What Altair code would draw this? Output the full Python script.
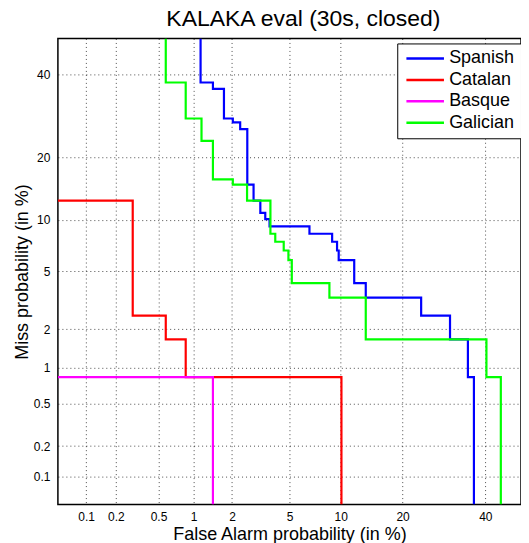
import statistics
import altair as alt
import pandas as pd

# ---- data (percentages; curves run to the axis limits) ----
languages = ["Spanish", "Catalan", "Basque", "Galician"]
line_colors = ["#0000FF", "#FF0000", "#FF00FF", "#00FF00"]

spanish_fa = [1.14, 1.14, 1.43, 1.43, 1.74, 1.74, 2.03, 2.03, 2.30, 2.30, 2.59, 2.59,
              2.87, 2.87, 3.2, 3.2, 3.46, 3.46, 3.7, 3.7, 6.64, 6.64, 8.98, 8.98,
              9.56, 9.56, 9.76, 9.76, 11.8, 11.8, 13.5, 13.5, 23.9, 23.9, 30.7, 30.7,
              35.3, 35.3, 36.9, 36.9]
spanish_miss = [50, 37.8, 37.8, 36.1, 36.1, 28.6, 28.6, 27.7, 27.7, 26.1, 26.1, 15.1,
                15.1, 12.6, 12.6, 10.9, 10.9, 10.1, 10.1, 9.24, 9.24, 8.4, 8.4, 7.56,
                7.56, 6.72, 6.72, 5.88, 5.88, 4.2, 4.2, 3.36, 3.36, 2.52, 2.52, 1.68,
                1.68, 0.84, 0.84, 0.05]

catalan_fa = [0.05, 0.29, 0.29, 0.58, 0.58, 0.86, 0.86, 10.1, 10.1]
catalan_miss = [12.6, 12.6, 2.52, 2.52, 1.68, 1.68, 0.84, 0.84, 0.05]

basque_fa = [0.05, 1.43, 1.43]
basque_miss = [0.84, 0.84, 0.05]

galician_fa = [0.58, 0.58, 0.86, 0.86, 1.16, 1.16, 1.43, 1.43, 2.03, 2.03, 2.58, 2.58,
               3.75, 3.75, 4.04, 4.04, 4.59, 4.59, 4.92, 4.92, 5.17, 5.17, 8.67, 8.67,
               13.5, 13.5, 40.3, 40.3, 44.3, 44.3]
galician_miss = [50, 37.8, 37.8, 28.6, 28.6, 23.5, 23.5, 16.0, 16.0, 15.1, 15.1, 12.6,
                 12.6, 8.4, 8.4, 7.56, 7.56, 6.72, 6.72, 5.88, 5.88, 4.2, 4.2, 3.36,
                 3.36, 1.68, 1.68, 0.84, 0.84, 0.05]

tick_pct = [0.1, 0.2, 0.5, 1, 2, 5, 10, 20, 40]
axis_min_pct = 0.05
axis_max_pct = 50

# ---- build table ----
rows = []
for lang, fa, miss in [("Spanish", spanish_fa, spanish_miss),
                       ("Catalan", catalan_fa, catalan_miss),
                       ("Basque", basque_fa, basque_miss),
                       ("Galician", galician_fa, galician_miss)]:
    for i, (f, m) in enumerate(zip(fa, miss)):
        rows.append({"lang": lang, "idx": i, "fa": f, "miss": m})
df = pd.DataFrame(rows)

nd = statistics.NormalDist()
zmin = nd.inv_cdf(axis_min_pct / 100)
zmax = nd.inv_cdf(axis_max_pct / 100)
tick_z = [nd.inv_cdf(p / 100) for p in tick_pct]
label_expr = "format(cumulativeNormal(datum.value) * 100, '.1~r')"

FONT = "Liberation Sans"

x_axis = alt.Axis(
    values=tick_z, labelExpr=label_expr, title="False Alarm probability (in %)",
    grid=True, gridDash=[1, 3], gridColor="#000000", gridOpacity=0.7, gridWidth=1,
    ticks=False, domain=False, labelPadding=7, labelFontSize=12, labelFont=FONT,
    labelColor="#000000", labelFlush=False,
    titleFont=FONT, titleFontSize=18, titleFontWeight="normal", titleColor="#000000",
    titleBaseline="alphabetic", titleY=35,
)
y_axis = alt.Axis(
    values=tick_z, labelExpr=label_expr, title="Miss probability (in %)",
    grid=True, gridDash=[1, 3], gridColor="#000000", gridOpacity=0.7, gridWidth=1,
    ticks=False, domain=False, labelPadding=8, labelFontSize=12, labelFont=FONT,
    labelColor="#000000", labelFlush=False,
    titleFont=FONT, titleFontSize=18, titleFontWeight="normal", titleColor="#000000",
    titleBaseline="alphabetic", titleX=-30, titleAngle=270,
)

# a horizontal stroke about 37 px long whose nominal symbol size stays small
legend_symbol = "M-3.3,0H3.3"

chart = alt.Chart(df).transform_calculate(
    zx="quantileNormal(datum.fa / 100)",
    zy="quantileNormal(datum.miss / 100)",
).mark_line(strokeWidth=2.2, clip=True, strokeCap="butt").encode(
    x=alt.X("zx:Q", scale=alt.Scale(domain=[zmin, zmax], nice=False, zero=False), axis=x_axis),
    y=alt.Y("zy:Q", scale=alt.Scale(domain=[zmin, zmax], nice=False, zero=False), axis=y_axis),
    color=alt.Color("lang:N", sort=languages,
                    scale=alt.Scale(domain=languages, range=line_colors),
                    legend=alt.Legend(title=None, orient="none", legendX=340, legendY=5,
                                      symbolType=legend_symbol, symbolSize=130,
                                      symbolStrokeWidth=2.5, symbolOffset=13,
                                      labelFontSize=18, labelFont=FONT,
                                      labelColor="#000000", labelOffset=15,
                                      padding=6, rowPadding=3.5,
                                      strokeColor="#000000", fillColor="#FFFFFF",
                                      cornerRadius=0)),
    order="idx:Q",
).properties(
    width=464, height=467,
    title=alt.TitleParams("KALAKA eval (30s, closed)", fontSize=23, font=FONT,
                          fontWeight="normal", color="#000000", offset=11,
                          baseline="alphabetic", dx=14, dy=22, anchor="middle",
                          frame="group"),
    autosize=alt.AutoSizeParams(type="none"),
    padding={"left": 50, "top": 30, "right": 0, "bottom": 38},
).configure_view(
    stroke="#000000", strokeWidth=1.5
)

chart.save("out.html", embed_options={"renderer": "svg", "actions": False})
